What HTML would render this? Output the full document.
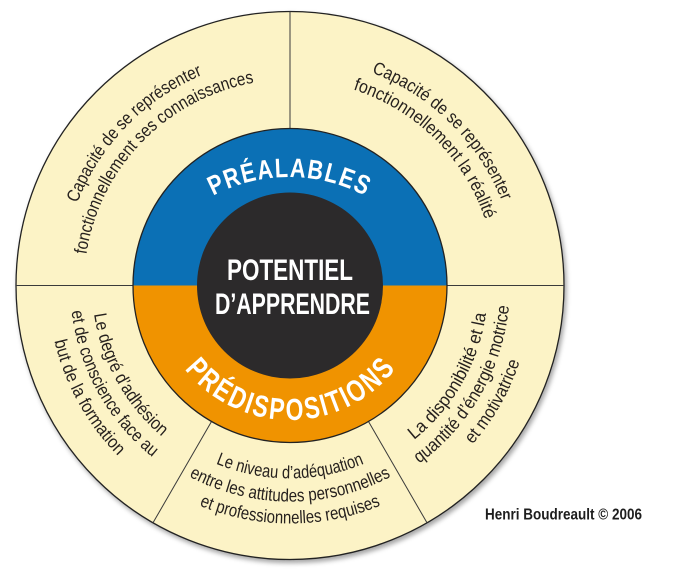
<!DOCTYPE html>
<html><head><meta charset="utf-8"><style>
html,body{margin:0;padding:0;background:#fff;}
svg{display:block;}
.s{font-family:"Liberation Sans",sans-serif;font-size:18px;fill:#26211e;}
.w{font-family:"Liberation Sans",sans-serif;font-weight:bold;fill:#fff;}
</style></head><body>
<svg width="686" height="582" viewBox="0 0 686 582" xmlns="http://www.w3.org/2000/svg">
<defs>
<filter id="sh" x="-10%" y="-10%" width="125%" height="125%"><feDropShadow dx="2" dy="3" stdDeviation="2.5" flood-color="#000" flood-opacity="0.35"/></filter>
<path id="t228" d="M -197.5 -114 A 228 228 0 0 1 197.5 -114"/>
<path id="t206" d="M -178.4 -103 A 206 206 0 0 1 178.4 -103"/>
<path id="b193" d="M -167.1 96.5 A 193 193 0 0 0 167.1 96.5"/>
<path id="b216" d="M -187.1 108 A 216 216 0 0 0 187.1 108"/>
<path id="b238" d="M -206.1 119 A 238 238 0 0 0 206.1 119"/>
<path id="b198" d="M -171.5 99 A 198 198 0 0 0 171.5 99"/>
<path id="b220" d="M -190.5 110 A 220 220 0 0 0 190.5 110"/>
<path id="b242" d="M -209.6 121 A 242 242 0 0 0 209.6 121"/>
</defs>
<rect width="686" height="582" fill="#fff"/>
<circle cx="290" cy="285.5" r="274" fill="#FCF3C6" stroke="#222" stroke-width="1.3" filter="url(#sh)"/>
<g stroke="#3a3a3a" stroke-width="1">
<line x1="290" y1="11.5" x2="290" y2="128.5"/>
<line x1="16" y1="285.5" x2="133" y2="285.5"/>
<line x1="447" y1="285.5" x2="564" y2="285.5"/>
<line x1="211.5" y1="421.5" x2="153" y2="522.8"/>
<line x1="368.5" y1="421.5" x2="427" y2="522.8"/>
</g>
<path d="M 133 285.5 A 157 157 0 0 1 447 285.5 Z" fill="#0B70B5"/>
<path d="M 133 285.5 A 157 157 0 0 0 447 285.5 Z" fill="#F09300"/>
<circle cx="290" cy="285.5" r="157" fill="none" stroke="#222" stroke-width="1.3"/>
<circle cx="290" cy="285.5" r="93" fill="#2C2A2B"/>

<text class="w" x="290" y="280" font-size="30" text-anchor="middle" textLength="126" lengthAdjust="spacingAndGlyphs">POTENTIEL</text>
<text class="w" x="292.5" y="314" font-size="30" text-anchor="middle" textLength="155" lengthAdjust="spacingAndGlyphs">D’APPRENDRE</text>

<g class="w" font-size="27" text-anchor="middle" transform="translate(289 340)">
<text transform="rotate(-25.22) translate(0 -163) scale(.8 1)">P</text>
<text transform="rotate(-19.50) translate(0 -163) scale(.8 1)">R</text>
<text transform="rotate(-13.79) translate(0 -163) scale(.8 1)">É</text>
<text transform="rotate(-8.07) translate(0 -163) scale(.8 1)">A</text>
<text transform="rotate(-2.56) translate(0 -163) scale(.8 1)">L</text>
<text transform="rotate(2.96) translate(0 -163) scale(.8 1)">A</text>
<text transform="rotate(8.87) translate(0 -163) scale(.8 1)">B</text>
<text transform="rotate(14.38) translate(0 -163) scale(.8 1)">L</text>
<text transform="rotate(19.70) translate(0 -163) scale(.8 1)">E</text>
<text transform="rotate(25.21) translate(0 -163) scale(.8 1)">S</text>
</g>

<g class="w" font-size="30.5" text-anchor="middle" transform="translate(290 285.5)">
<text transform="rotate(48.29) translate(0 134.5) scale(.75 1)">P</text>
<text transform="rotate(40.46) translate(0 134.5) scale(.75 1)">R</text>
<text transform="rotate(32.64) translate(0 134.5) scale(.75 1)">É</text>
<text transform="rotate(24.82) translate(0 134.5) scale(.75 1)">D</text>
<text transform="rotate(19.06) translate(0 134.5) scale(.75 1)">I</text>
<text transform="rotate(13.58) translate(0 134.5) scale(.75 1)">S</text>
<text transform="rotate(6.05) translate(0 134.5) scale(.75 1)">P</text>
<text transform="rotate(-2.07) translate(0 134.5) scale(.75 1)">O</text>
<text transform="rotate(-10.19) translate(0 134.5) scale(.75 1)">S</text>
<text transform="rotate(-15.66) translate(0 134.5) scale(.75 1)">I</text>
<text transform="rotate(-20.83) translate(0 134.5) scale(.75 1)">T</text>
<text transform="rotate(-26.01) translate(0 134.5) scale(.75 1)">I</text>
<text transform="rotate(-32.07) translate(0 134.5) scale(.75 1)">O</text>
<text transform="rotate(-40.48) translate(0 134.5) scale(.75 1)">N</text>
<text transform="rotate(-48.30) translate(0 134.5) scale(.75 1)">S</text>
</g>

<g class="s" text-anchor="middle" transform="translate(290 285.5) rotate(-45.7)">
<text><textPath href="#t228" startOffset="50%" textLength="184" lengthAdjust="spacingAndGlyphs">Capacité de se représenter</textPath></text>
<text><textPath href="#t206" startOffset="50%" textLength="256" lengthAdjust="spacingAndGlyphs">fonctionnellement ses connaissances</textPath></text>
</g>
<g class="s" text-anchor="middle" transform="translate(290 285.5) rotate(44.6)">
<text><textPath href="#t228" startOffset="50%" textLength="188" lengthAdjust="spacingAndGlyphs">Capacité de se représenter</textPath></text>
<text><textPath href="#t206" startOffset="50%" textLength="192" lengthAdjust="spacingAndGlyphs">fonctionnellement la réalité</textPath></text>
</g>
<g class="s" text-anchor="middle" transform="translate(290 285.5) rotate(61)">
<text><textPath href="#b198" startOffset="50%" textLength="143" lengthAdjust="spacingAndGlyphs">Le degré d’adhésion</textPath></text>
<text><textPath href="#b220" startOffset="50%" textLength="171" lengthAdjust="spacingAndGlyphs">et de conscience face au</textPath></text>
<text><textPath href="#b242" startOffset="50%" textLength="133" lengthAdjust="spacingAndGlyphs">but de la formation</textPath></text>
</g>
<g class="s" text-anchor="middle" transform="translate(290 285.5)">
<text><textPath href="#b193" startOffset="50%" textLength="152" lengthAdjust="spacingAndGlyphs">Le niveau d’adéquation</textPath></text>
<text><textPath href="#b216" startOffset="50%" textLength="210" lengthAdjust="spacingAndGlyphs">entre les attitudes personnelles</textPath></text>
<text><textPath href="#b238" startOffset="50%" textLength="186" lengthAdjust="spacingAndGlyphs">et professionnelles requises</textPath></text>
</g>
<g class="s" text-anchor="middle" transform="translate(290 285.5) rotate(-60.3)">
<text><textPath href="#b198" startOffset="50%" textLength="149" lengthAdjust="spacingAndGlyphs">La disponibilité et la</textPath></text>
<text><textPath href="#b220" startOffset="50%" textLength="187" lengthAdjust="spacingAndGlyphs">quantité d’énergie motrice</textPath></text>
<text><textPath href="#b242" startOffset="50%" textLength="96" lengthAdjust="spacingAndGlyphs">et motivatrice</textPath></text>
</g>

<text x="563.5" y="519.5" text-anchor="middle" font-family="Liberation Sans, sans-serif" font-weight="bold" font-size="16" fill="#1e1e1e" textLength="157" lengthAdjust="spacingAndGlyphs">Henri Boudreault © 2006</text>
</svg>
</body></html>
